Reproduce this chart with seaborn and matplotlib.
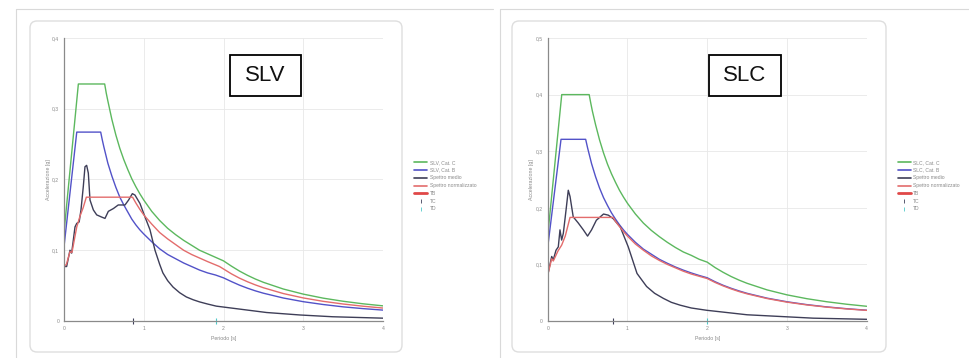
import matplotlib
matplotlib.use("Agg")
import matplotlib.pyplot as plt
from matplotlib.patches import FancyBboxPatch, Rectangle
from matplotlib.lines import Line2D
from matplotlib.ticker import MultipleLocator, FuncFormatter
import seaborn as sns
import pandas as pd

sns.set_theme(style="white")
plt.rcParams["font.family"] = ["Liberation Sans", "DejaVu Sans"]

# ---------------- SLV ----------------
slv_c_T = [0, 0.18, 0.51, 0.53, 0.55, 0.6, 0.65, 0.7, 0.75, 0.8, 0.85, 0.9, 0.95, 1.0,
           1.1, 1.2, 1.3, 1.4, 1.5, 1.6, 1.7, 1.8, 1.9, 2.0, 2.1, 2.2, 2.3, 2.4, 2.5,
           2.75, 3.0, 3.25, 3.5, 3.75, 4.0]
slv_c_a = [0.125, 0.335, 0.335, 0.322, 0.311, 0.285, 0.263, 0.244, 0.228, 0.214, 0.201,
           0.190, 0.180, 0.171, 0.155, 0.142, 0.131, 0.122, 0.114, 0.107, 0.100, 0.095,
           0.090, 0.085, 0.0775, 0.0706, 0.0646, 0.0593, 0.0547, 0.0452, 0.038, 0.0323,
           0.0279, 0.0243, 0.0214]

slv_b_T = [0, 0.16, 0.46, 0.48, 0.5, 0.55, 0.6, 0.65, 0.7, 0.75, 0.8, 0.85, 0.9, 0.95,
           1.0, 1.1, 1.2, 1.3, 1.4, 1.5, 1.6, 1.7, 1.8, 1.9, 2.0, 2.1, 2.2, 2.3, 2.4, 2.5,
           2.75, 3.0, 3.25, 3.5, 3.75, 4.0]
slv_b_a = [0.105, 0.267, 0.267, 0.256, 0.246, 0.223, 0.205, 0.189, 0.175, 0.164, 0.154,
           0.144, 0.136, 0.129, 0.123, 0.112, 0.102, 0.094, 0.088, 0.082, 0.077, 0.072,
           0.068, 0.065, 0.061, 0.0557, 0.0507, 0.0464, 0.0426, 0.0393, 0.0325, 0.0273,
           0.0233, 0.0200, 0.0175, 0.0154]

slv_med_T = [0, 0.033, 0.075, 0.096, 0.138, 0.16, 0.19, 0.213, 0.242, 0.263, 0.284, 0.305,
             0.326, 0.368, 0.41, 0.47, 0.514, 0.556, 0.62, 0.68, 0.765, 0.81, 0.857, 0.89,
             0.953, 1.016, 1.078, 1.141, 1.2, 1.24, 1.3, 1.367, 1.45, 1.534, 1.62, 1.70,
             1.8, 1.91, 2.12, 2.54, 2.96, 3.37, 4.0]
slv_med_a = [0.077, 0.077, 0.100, 0.096, 0.133, 0.138, 0.140, 0.157, 0.190, 0.218, 0.220,
             0.209, 0.171, 0.157, 0.150, 0.147, 0.145, 0.155, 0.159, 0.164, 0.164, 0.171,
             0.180, 0.178, 0.166, 0.147, 0.129, 0.100, 0.080, 0.068, 0.057, 0.048, 0.040,
             0.034, 0.030, 0.027, 0.024, 0.021, 0.018, 0.012, 0.0085, 0.006, 0.004]

slv_norm_T = [0, 0.03, 0.075, 0.1, 0.16, 0.2, 0.24, 0.28, 0.86, 0.9, 0.95, 1.0, 1.1, 1.2,
              1.3, 1.4, 1.5, 1.6, 1.7, 1.8, 1.95, 2.1, 2.2, 2.3, 2.4, 2.5, 2.75, 3.0, 3.25,
              3.5, 3.75, 4.0]
slv_norm_a = [0.077, 0.080, 0.098, 0.097, 0.133, 0.148, 0.160, 0.175, 0.175, 0.167, 0.158,
              0.150, 0.137, 0.125, 0.116, 0.108, 0.100, 0.094, 0.089, 0.084, 0.077, 0.0666,
              0.0606, 0.0555, 0.051, 0.047, 0.0388, 0.0326, 0.0278, 0.024, 0.0209, 0.0183]

slv_TB, slv_TC, slv_TD = 0.28, 0.86, 1.9

# ---------------- SLC ----------------
slc_c_T = [0, 0.176, 0.52, 0.54, 0.56, 0.6, 0.65, 0.7, 0.75, 0.8, 0.85, 0.9, 0.95, 1.0,
           1.1, 1.2, 1.3, 1.4, 1.5, 1.6, 1.7, 1.8, 1.9, 2.0, 2.1, 2.2, 2.3, 2.4, 2.5,
           2.75, 3.0, 3.25, 3.5, 3.75, 4.0]
slc_c_a = [0.15, 0.400, 0.400, 0.385, 0.371, 0.347, 0.320, 0.297, 0.277, 0.260, 0.245,
           0.231, 0.219, 0.208, 0.189, 0.173, 0.160, 0.149, 0.139, 0.130, 0.122, 0.116,
           0.109, 0.104, 0.0943, 0.0860, 0.0786, 0.0722, 0.0666, 0.055, 0.0462, 0.0394,
           0.034, 0.0296, 0.026]

slc_b_T = [0, 0.167, 0.476, 0.5, 0.55, 0.6, 0.65, 0.7, 0.75, 0.8, 0.85, 0.9, 0.95, 1.0,
           1.1, 1.2, 1.3, 1.4, 1.5, 1.6, 1.7, 1.8, 1.9, 2.0, 2.1, 2.2, 2.3, 2.4, 2.5,
           2.75, 3.0, 3.25, 3.5, 3.75, 4.0]
slc_b_a = [0.13, 0.321, 0.321, 0.306, 0.278, 0.255, 0.235, 0.218, 0.204, 0.191, 0.180,
           0.170, 0.161, 0.153, 0.139, 0.127, 0.118, 0.109, 0.102, 0.0955, 0.0899, 0.0849,
           0.0804, 0.0764, 0.0693, 0.0631, 0.0578, 0.0531, 0.0489, 0.0404, 0.034, 0.0289,
           0.0249, 0.0217, 0.0191]

slc_med_T = [0, 0.05, 0.07, 0.104, 0.133, 0.154, 0.175, 0.196, 0.23, 0.258, 0.28, 0.32,
             0.384, 0.447, 0.50, 0.55, 0.61, 0.70, 0.76, 0.82, 0.91, 1.01, 1.12, 1.24,
             1.34, 1.45, 1.55, 1.66, 1.8, 1.99, 2.5, 3.33, 4.0]
slc_med_a = [0.081, 0.114, 0.108, 0.125, 0.131, 0.161, 0.143, 0.155, 0.196, 0.231, 0.220,
             0.184, 0.173, 0.161, 0.150, 0.161, 0.178, 0.189, 0.187, 0.181, 0.166, 0.131,
             0.084, 0.061, 0.049, 0.040, 0.033, 0.028, 0.023, 0.019, 0.011, 0.005, 0.003]

slc_norm_T = [0, 0.05, 0.07, 0.13, 0.175, 0.22, 0.28, 0.82, 0.85, 0.9, 0.95, 1.0, 1.1,
              1.2, 1.3, 1.4, 1.5, 1.6, 1.7, 1.8, 1.9, 2.0, 2.1, 2.2, 2.3, 2.4, 2.5, 2.75,
              3.0, 3.25, 3.5, 3.75, 4.0]
slc_norm_a = [0.081, 0.110, 0.106, 0.124, 0.134, 0.150, 0.183, 0.183, 0.176, 0.167, 0.158,
              0.150, 0.136, 0.125, 0.115, 0.107, 0.100, 0.094, 0.088, 0.083, 0.079, 0.075,
              0.068, 0.062, 0.0567, 0.052, 0.048, 0.0397, 0.0333, 0.0284, 0.0245, 0.0213,
              0.0188]

slc_TB, slc_TC, slc_TD = 0.28, 0.82, 2.0

C_GREEN = "#5cb85e"
C_BLUE = "#5252c8"
C_DARK = "#3e3e58"
C_RED = "#e36c6c"
C_TB = "#e04848"
C_TD = "#4fc9c9"

W, H = 969, 358
fig = plt.figure(figsize=(W / 100, H / 100), dpi=100)

# page background: outer frames and rounded cards (pixel coordinates)
bg = fig.add_axes([0, 0, 1, 1], zorder=0)
bg.set_xlim(0, W)
bg.set_ylim(H, 0)
bg.axis("off")
frame_c = "#d9d9d9"
bg.plot([16, 493], [9, 9], color=frame_c, lw=0.8)
bg.plot([16, 16], [9, H], color=frame_c, lw=0.8)
bg.plot([500, W], [9, 9], color=frame_c, lw=0.8)
bg.plot([500, 500], [9, H], color=frame_c, lw=0.8)
for (x0, x1) in [(30, 402), (512, 886)]:
    bg.add_patch(FancyBboxPatch((x0, 21), x1 - x0, 331,
                                boxstyle="round,pad=0,rounding_size=7",
                                ec="#dedede", fc="white", lw=1.0))


def comma(v, pos):
    if abs(v) < 1e-9:
        return "0"
    return ("%g" % round(v, 3)).replace(".", ",")


def panel(x_left_px, ymax, ystep, name, series, TB, TC, TD, box):
    ax = fig.add_axes([x_left_px / W, (H - 321) / H, 319 / W, 283 / H], zorder=2)
    ax.patch.set_alpha(0)
    c_T, c_a, b_T, b_a, m_T, m_a, n_T, n_a = series
    dfs = [
        (c_T, c_a, C_GREEN, f"{name}, Cat. C"),
        (b_T, b_a, C_BLUE, f"{name}, Cat. B"),
        (m_T, m_a, C_DARK, "Spettro medio"),
        (n_T, n_a, C_RED, "Spettro normalizzato"),
    ]
    handles = []
    for T, a, col, lab in dfs:
        df = pd.DataFrame({"T": T, "Se": a})
        sns.lineplot(data=df, x="T", y="Se", ax=ax, color=col, lw=1.0,
                     sort=False, estimator=None, legend=False)
        handles.append(Line2D([], [], color=col, lw=1.2, label=lab))
    handles.append(Line2D([], [], color=C_TB, lw=2.0, label="TB"))
    # corner periods on the time axis
    ax.plot([TC], [0], ls="none", marker="|", ms=4, mew=0.8, color=C_DARK, clip_on=False)
    ax.plot([TD], [0], ls="none", marker="|", ms=4, mew=0.8, color=C_TD, clip_on=False)
    handles.append(Line2D([], [], ls="none", marker="|", ms=3, mew=0.6, color=C_DARK, label="TC"))
    handles.append(Line2D([], [], ls="none", marker="|", ms=3, mew=0.6, color=C_TD, label="TD"))

    ax.set_xlim(0, 4)
    ax.set_ylim(0, ymax)
    ax.xaxis.set_major_locator(MultipleLocator(1))
    ax.xaxis.set_minor_locator(MultipleLocator(0.5))
    ax.yaxis.set_major_locator(MultipleLocator(ystep))
    ax.yaxis.set_minor_locator(MultipleLocator(ystep / 2))
    ax.xaxis.set_major_formatter(FuncFormatter(comma))
    ax.yaxis.set_major_formatter(FuncFormatter(comma))
    ax.grid(True, which="major", color="#e8e8e8", lw=0.6)
    ax.set_axisbelow(True)
    for s in ["top", "right"]:
        ax.spines[s].set_visible(False)
    for s in ["left", "bottom"]:
        ax.spines[s].set_color("#8a8a8a")
        ax.spines[s].set_linewidth(0.9)
    ax.tick_params(which="both", direction="inout", colors="#8a8a8a",
                   labelcolor="#8a8a8a", labelsize=3.6, length=3, width=0.6, pad=2)
    ax.tick_params(which="minor", length=2)
    ax.set_xlabel("Periodo [s]", fontsize=3.8, color="#8a8a8a", labelpad=4)
    ax.set_ylabel("Accelerazione [g]", fontsize=3.8, color="#8a8a8a", labelpad=1)

    bx0, bx1 = box
    ax.add_patch(Rectangle((bx0, 0.795), bx1 - bx0, 0.145, transform=ax.transAxes,
                           fc="white", ec="black", lw=1.3, zorder=5))
    ax.text((bx0 + bx1) / 2, 0.867, name, transform=ax.transAxes, ha="center",
            va="center", fontsize=16, color="#111111", zorder=6)

    fig.legend(handles=handles, loc="upper left",
               bbox_to_anchor=((x_left_px + 350) / W, 1 - 160 / H),
               frameon=False, fontsize=3.6, labelspacing=0.55, handlelength=2.6,
               handletextpad=0.5, borderpad=0, borderaxespad=0, labelcolor="#8a8a8a")
    return ax


panel(64, 0.4, 0.1, "SLV",
      (slv_c_T, slv_c_a, slv_b_T, slv_b_a, slv_med_T, slv_med_a, slv_norm_T, slv_norm_a),
      slv_TB, slv_TC, slv_TD, (0.520, 0.743))
panel(547.7, 0.5, 0.1, "SLC",
      (slc_c_T, slc_c_a, slc_b_T, slc_b_a, slc_med_T, slc_med_a, slc_norm_T, slc_norm_a),
      slc_TB, slc_TC, slc_TD, (0.506, 0.731))

fig.savefig("out.png", dpi=100, facecolor="white")
